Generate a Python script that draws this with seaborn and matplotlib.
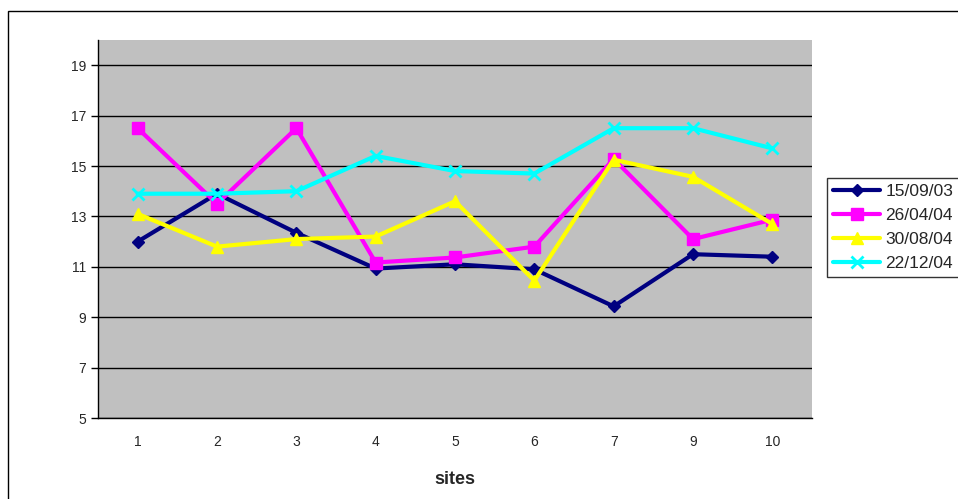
import numpy as np
import pandas as pd
import matplotlib
matplotlib.use("Agg")
import matplotlib.pyplot as plt
import seaborn as sns
from matplotlib.patches import Rectangle

sites = ["1", "2", "3", "4", "5", "6", "7", "9", "10"]
dates = ["15/09/03", "26/04/04", "30/08/04", "22/12/04"]
s_150903 = [12.0, 13.9, 12.35, 10.93, 11.1, 10.9, 9.43, 11.5, 11.4]
s_260404 = [16.5, 13.5, 16.5, 11.17, 11.37, 11.8, 15.28, 12.1, 12.87]
s_300804 = [13.1, 11.8, 12.1, 12.2, 13.6, 10.45, 15.25, 14.57, 12.7]
s_221204 = [13.9, 13.9, 14.0, 15.4, 14.8, 14.7, 16.5, 16.5, 15.7]

colors = ["#000080", "#FF00FF", "#FFFF00", "#00FFFF"]
markers = ["D", "s", "^", "x"]
msizes = [7, 9, 10, 10]

rows = []
for d, vals in zip(dates, [s_150903, s_260404, s_300804, s_221204]):
    for i, v in enumerate(vals):
        rows.append({"pos": i, "site": sites[i], "date": d, "temp": v})
df = pd.DataFrame(rows)

sns.set_style("white")
plt.rcParams["font.family"] = ["Liberation Sans", "DejaVu Sans"]

fig = plt.figure(figsize=(9.58, 4.99), dpi=100)
ax = fig.add_axes([98 / 958, 1 - 418 / 499, (812 - 98) / 958, (418 - 40) / 499])
ax.set_facecolor("#C0C0C0")

for d, c, m, ms in zip(dates, colors, markers, msizes):
    sub = df[df["date"] == d]
    sns.lineplot(data=sub, x="pos", y="temp", ax=ax, color=c, marker=m,
                 markersize=ms, linewidth=3, markeredgecolor=c,
                 markeredgewidth=2 if m == "x" else 1, label=d, zorder=3)

ax.set_xlim(-0.5, len(sites) - 0.5)
ax.set_ylim(5, 20)
ax.set_yticks(np.arange(5, 20, 2))
ax.yaxis.grid(True, color="black", linewidth=1)
ax.set_axisbelow(True)
ax.set_xticks(np.arange(len(sites)))
ax.set_xticklabels(sites)
ax.set_xticks(np.arange(len(sites) + 1) - 0.5, minor=True)
ax.tick_params(axis="x", which="major", length=0, pad=12, labelsize=10)
ax.tick_params(axis="x", which="minor", length=5, width=1, color="black", direction="out")
ax.tick_params(axis="y", length=5, width=1, color="black", direction="out", labelsize=10, left=True)
for s in ["top", "right"]:
    ax.spines[s].set_visible(False)
for s in ["left", "bottom"]:
    ax.spines[s].set_color("black")
    ax.spines[s].set_linewidth(1)
ax.set_xlabel("sites", fontsize=13, fontweight="bold", labelpad=16)
ax.set_ylabel("")

ax.get_legend().remove()
handles, labels = ax.get_legend_handles_labels()
for h in handles:
    h.set_markersize(h.get_markersize() * 0.9)
leg = fig.legend(handles, labels, loc="upper left", bbox_to_anchor=(827 / 958, 1 - 178 / 499),
                 frameon=True, fancybox=False, edgecolor="black", fontsize=12.5,
                 handlelength=2.7, handletextpad=0.3, borderpad=0.35, labelspacing=0.5,
                 borderaxespad=0)
leg.get_frame().set_linewidth(1)

fig.patches.append(Rectangle((8 / 958, -0.2), 1.5, 1.2 - 11 / 499, transform=fig.transFigure,
                             fill=False, edgecolor="black", linewidth=1))

fig.savefig("out.png", dpi=100)
